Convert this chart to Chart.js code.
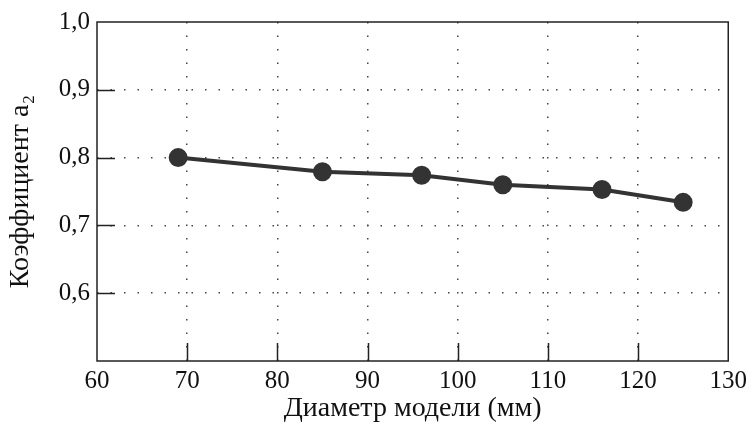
<!DOCTYPE html>
<html>
<head>
<meta charset="utf-8">
<script src="https://cdn.jsdelivr.net/npm/chart.js@4"></script>
<style>
  html, body { margin: 0; padding: 0; background: #fff; }
  #wrap { width: 752px; height: 425px; }
</style>
</head>
<body>
<div id="wrap"><canvas id="grafico" width="752" height="425"></canvas></div>
<script>
// dados
const diametros = [69, 85, 96, 105, 116, 125];
const coeficientes = [0.800, 0.779, 0.774, 0.760, 0.753, 0.734];
const ticksX = [60, 70, 80, 90, 100, 110, 120, 130];
const ticksY = [0.5, 0.6, 0.7, 0.8, 0.9, 1.0];

const fonte = '"Liberation Serif", "Times New Roman", serif';
const cor = '#333';

// caixa + marcas de escala para dentro
const caixa = {
  id: 'caixa',
  afterDraw(chart) {
    const { ctx, chartArea: a, scales } = chart;
    ctx.save();
    ctx.strokeStyle = '#222';
    ctx.lineWidth = 1.5;
    ctx.strokeRect(a.left, a.top, a.right - a.left, a.bottom - a.top);
    ctx.beginPath();
    ticksX.slice(1, -1).forEach(v => {
      const x = Math.round(scales.x.getPixelForValue(v)) + 0.5;
      ctx.moveTo(x, a.bottom);
      ctx.lineTo(x, a.bottom - 18);
    });
    ticksY.slice(1, -1).forEach(v => {
      const y = Math.round(scales.y.getPixelForValue(v)) + 0.5;
      ctx.moveTo(a.left, y);
      ctx.lineTo(a.left + 18, y);
    });
    ctx.stroke();
    ctx.restore();
  }
};

const ctx = document.getElementById('grafico').getContext('2d');
const grafico = new Chart(ctx, {
  type: 'line',
  data: {
    datasets: [{
      data: diametros.map((d, i) => ({ x: d, y: coeficientes[i] })),
      borderColor: cor,
      backgroundColor: cor,
      borderWidth: 4,
      pointRadius: 7.5,
      pointHoverRadius: 7.5,
      tension: 0
    }]
  },
  options: {
    responsive: false,
    animation: false,
    events: [],
    layout: { padding: { top: 22, right: 23, left: 0, bottom: 0 } },
    plugins: { legend: { display: false }, tooltip: { enabled: false } },
    scales: {
      x: {
        type: 'linear',
        min: 60, max: 130,
        afterBuildTicks: s => { s.ticks = ticksX.map(v => ({ value: v })); },
        afterFit: s => { s.height = 64; },
        grid: {
          drawTicks: false,
          lineWidth: 1.5,
          color: c => (c.tick && (c.tick.value === 60 || c.tick.value === 130)) ? 'rgba(0,0,0,0)' : '#444'
        },
        border: { display: false, dash: [1.5, 12], dashOffset: 0 },
        ticks: {
          padding: 5,
          color: '#111',
          font: { family: fonte, size: 25 },
          maxRotation: 0
        },
        title: {
          display: true,
          text: 'Диаметр модели (мм)',
          color: '#111',
          font: { family: fonte, size: 28 },
          padding: { top: 3, bottom: 0 }
        }
      },
      y: {
        min: 0.5, max: 1.0,
        afterBuildTicks: s => { s.ticks = ticksY.map(v => ({ value: v })); },
        afterFit: s => { s.width = 97; },
        grid: {
          drawTicks: false,
          lineWidth: 1.5,
          color: c => (c.tick && (c.tick.value === 0.5 || c.tick.value === 1.0)) ? 'rgba(0,0,0,0)' : '#444'
        },
        border: { display: false, dash: [1.5, 12], dashOffset: 0 },
        ticks: {
          padding: 7,
          color: '#111',
          font: { family: fonte, size: 25 },
          callback: v => v === 0.5 ? '' : v.toFixed(1).replace('.', ',')
        },
        title: {
          display: true,
          text: 'Коэффициент a₂',
          color: '#111',
          font: { family: fonte, size: 28 },
          padding: { top: 4, bottom: 0 }
        }
      }
    }
  },
  plugins: [caixa]
});
</script>
</body>
</html>
